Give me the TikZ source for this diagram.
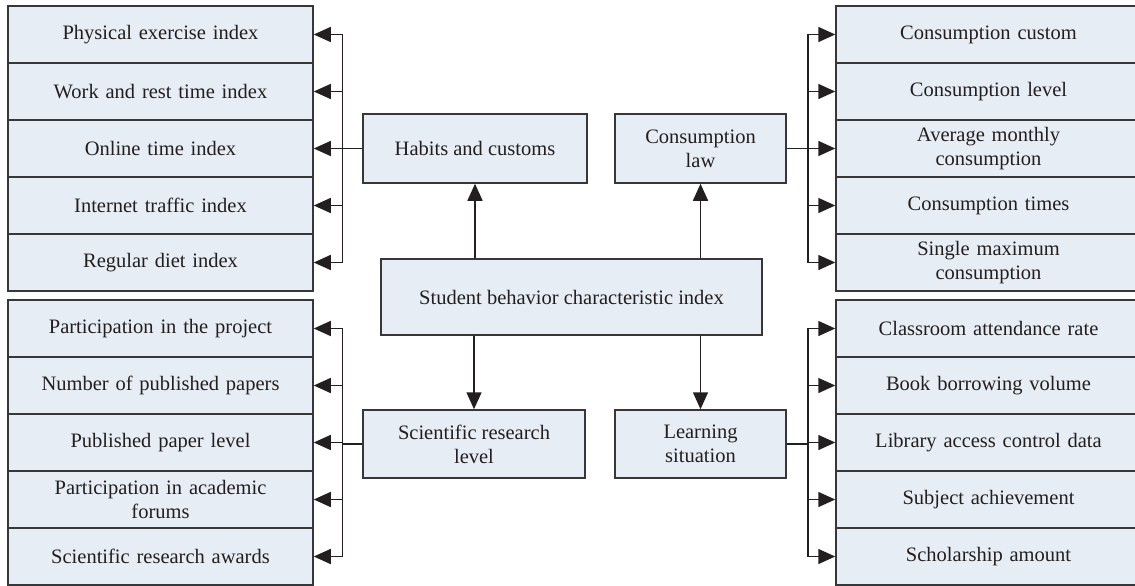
\documentclass[tikz,border=0pt]{standalone}
\usepackage{fontspec}
\setmainfont{Liberation Serif}
\usetikzlibrary{arrows.meta}
\definecolor{boxfill}{RGB}{230,237,244}
\definecolor{edgec}{RGB}{55,55,55}
\definecolor{arrc}{RGB}{35,31,32}
\begin{document}
\begin{tikzpicture}[x=1pt,y=-1pt,
  base/.style={draw=edgec, line width=1.5pt, fill=boxfill, inner sep=2pt, align=center,
    text=arrc, font=\fontsize{20.5}{24}\selectfont},
  leaf/.style={base, minimum width=305pt, minimum height=57pt, text width=295pt},
  cat/.style={base, minimum height=69pt},
  arr/.style={draw=arrc, line width=1.5pt, -{Triangle[length=17pt,width=15pt]}}]
\useasboundingbox (0,0) rectangle (1135,586);
\clip (0,0) rectangle (1135,586);
% left top leaves
\node[leaf] (l1) at (160.5,34.5) {Physical exercise index};
\node[leaf] (l2) at (160.5,91.5) {Work and rest time index};
\node[leaf] (l3) at (160.5,148.5) {Online time index};
\node[leaf] (l4) at (160.5,205.5) {Internet traffic index};
\node[leaf] (l5) at (160.5,262.5) {Regular diet index};
% left bottom leaves
\node[leaf] (b1) at (160.5,328.5) {Participation in the project};
\node[leaf] (b2) at (160.5,385.5) {Number of published papers};
\node[leaf] (b3) at (160.5,442.5) {Published paper level};
\node[leaf] (b4) at (160.5,499.5) {Participation in academic\\forums};
\node[leaf] (b5) at (160.5,556.5) {Scientific research awards};
% right top leaves
\node[leaf] (r1) at (988.5,34.5) {Consumption custom};
\node[leaf] (r2) at (988.5,91.5) {Consumption level};
\node[leaf] (r3) at (988.5,148.5) {Average monthly\\consumption};
\node[leaf] (r4) at (988.5,205.5) {Consumption times};
\node[leaf] (r5) at (988.5,262.5) {Single maximum\\consumption};
% right bottom leaves
\node[leaf] (s1) at (988.5,328.5) {Classroom attendance rate};
\node[leaf] (s2) at (988.5,385.5) {Book borrowing volume};
\node[leaf] (s3) at (988.5,442.5) {Library access control data};
\node[leaf] (s4) at (988.5,499.5) {Subject achievement};
\node[leaf] (s5) at (988.5,556.5) {Scholarship amount};
% categories
\node[cat, minimum width=224pt] (hab) at (475,148.5) {Habits and customs};
\node[cat, minimum width=171pt] (cons) at (700.5,148.5) {Consumption\\law};
\node[base, minimum width=381pt, minimum height=76pt] (stu) at (571.5,297) {Student behavior characteristic index};
\node[cat, minimum width=222pt, minimum height=68pt] (sci) at (474,444) {Scientific research\\level};
\node[cat, minimum width=171pt, minimum height=68pt] (learn) at (700.5,444) {Learning\\situation};
% root to categories
\draw[arr] (hab.south |- stu.north) -- (hab.south);
\draw[arr] (cons.south |- stu.north) -- (cons.south);
\draw[arr] (sci.north |- stu.south) -- (sci.north);
\draw[arr] (learn.north |- stu.south) -- (learn.north);
% habits -> left top
\foreach \n in {l1,l2,l3,l4,l5} \draw[arr] (hab.west) -- ++(-20,0) |- (\n.east);
% science -> left bottom
\foreach \n in {b1,b2,b3,b4,b5} \draw[arr] (sci.west) -- ++(-20,0) |- (\n.east);
% consumption -> right top
\foreach \n in {r1,r2,r3,r4,r5} \draw[arr] (cons.east) -- ++(21,0) |- (\n.west);
% learning -> right bottom
\foreach \n in {s1,s2,s3,s4,s5} \draw[arr] (learn.east) -- ++(21,0) |- (\n.west);
\end{tikzpicture}
\end{document}
